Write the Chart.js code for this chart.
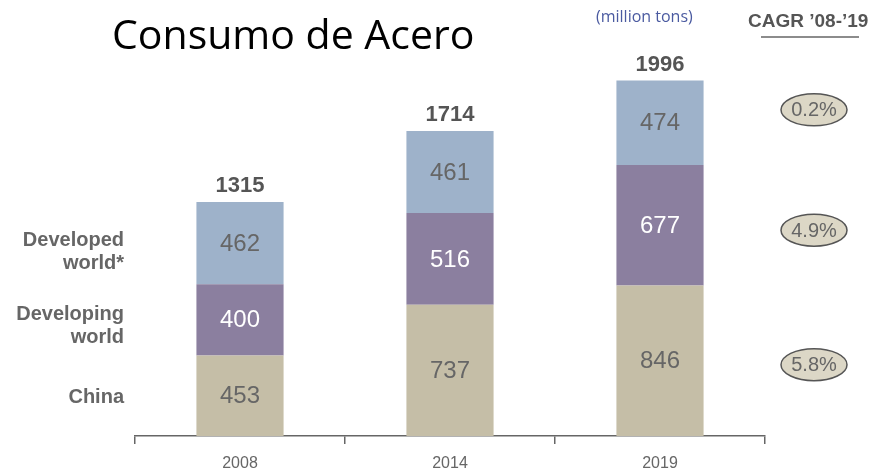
<!DOCTYPE html>
<html>
<head>
<meta charset="utf-8">
<script src="https://cdn.jsdelivr.net/npm/chart.js@4"></script>
<style>
  body { margin: 0; background: #fff; }
  #wrap { position: relative; width: 879px; height: 472px; }
</style>
</head>
<body>
<div id="wrap"><canvas id="graph" width="879" height="472"></canvas></div>
<script>
// data (million tons)
const years = ['2008', '2014', '2019'];
const china = [453, 737, 846];
const developing = [400, 516, 677];
const developed = [462, 461, 474];
const totals = [1315, 1714, 1996];
const seriesNames = [['China'], ['Developing', 'world'], ['Developed', 'world*']];
const cagr = ['5.8%', '4.9%', '0.2%'];

const labelPlugin = {
  id: 'labels',
  afterDatasetsDraw(chart) {
    const ctx = chart.ctx;
    ctx.save();
    ctx.textAlign = 'center';
    ctx.textBaseline = 'middle';
    // values inside the segments
    chart.data.datasets.forEach((ds, i) => {
      const meta = chart.getDatasetMeta(i);
      meta.data.forEach((bar, j) => {
        ctx.fillStyle = ds.textColor;
        ctx.font = '24px "Liberation Sans", Arial, sans-serif';
        ctx.fillText(ds.data[j], bar.x, (bar.y + bar.base) / 2 + 1);
      });
    });
    // totals above bars
    const top = chart.getDatasetMeta(2);
    top.data.forEach((bar, j) => {
      ctx.fillStyle = '#555';
      ctx.font = 'bold 22px "Liberation Sans", Arial, sans-serif';
      ctx.fillText(totals[j], bar.x, bar.y - 16);
    });
    // series names on the left, next to the 2008 bar
    ctx.textAlign = 'right';
    ctx.font = 'bold 20px "Liberation Sans", Arial, sans-serif';
    ctx.fillStyle = '#666';
    const nameOffs = [2, 6, 9];
    for (let i = 0; i < 3; i++) {
      const bar = chart.getDatasetMeta(i).data[0];
      const mid = (bar.y + bar.base) / 2 + nameOffs[i];
      const lines = seriesNames[i];
      lines.forEach((t, k) => {
        ctx.fillText(t, 124, mid + (k - (lines.length - 1) / 2) * 23);
      });
    }
    // CAGR ovals on the right, next to the 2019 bar
    const offs = [4, 5, -13];
    for (let i = 0; i < 3; i++) {
      const bar = chart.getDatasetMeta(i).data[2];
      const mid = (bar.y + bar.base) / 2 + offs[i];
      ctx.beginPath();
      ctx.ellipse(814, mid, 33, 16, 0, 0, Math.PI * 2);
      ctx.fillStyle = '#dcd7c6';
      ctx.fill();
      ctx.lineWidth = 1.5;
      ctx.strokeStyle = '#555';
      ctx.stroke();
      ctx.textAlign = 'center';
      ctx.fillStyle = '#666';
      ctx.font = '20px "Liberation Sans", Arial, sans-serif';
      ctx.fillText(cagr[i], 814, mid + 1);
    }
    // headings
    ctx.textAlign = 'left';
    ctx.fillStyle = '#000';
    ctx.font = '41px "Open Sans", sans-serif';
    ctx.fillText('Consumo de Acero', 112, 37);
    ctx.fillStyle = '#4a5aa0';
    ctx.font = '16px "Open Sans", sans-serif';
    ctx.fillText('(million tons)', 596, 17);
    ctx.fillStyle = '#555';
    ctx.font = 'bold 19px "Liberation Sans", Arial, sans-serif';
    ctx.fillText('CAGR \u201908-\u201919', 748, 22);
    ctx.beginPath();
    ctx.moveTo(761, 37);
    ctx.lineTo(859, 37);
    ctx.lineWidth = 1.5;
    ctx.strokeStyle = '#666';
    ctx.stroke();
    ctx.restore();
  }
};

let myChart = document.getElementById('graph').getContext('2d');

let steelChart = new Chart(myChart, {
  type: 'bar',
  data: {
    labels: years,
    datasets: [
      { label: 'China', data: china, backgroundColor: '#c5bea7', textColor: '#666' },
      { label: 'Developing world', data: developing, backgroundColor: '#8b7f9f', textColor: '#fff' },
      { label: 'Developed world*', data: developed, backgroundColor: '#9eb2ca', textColor: '#666' }
    ]
  },
  options: {
    responsive: false,
    animation: false,
    layout: { padding: { left: 135, right: 114, top: 0, bottom: 0 } },
    plugins: { legend: { display: false }, tooltip: { enabled: false } },
    datasets: { bar: { categoryPercentage: 1, barPercentage: 0.415 } },
    scales: {
      x: {
        stacked: true,
        afterFit(scale) { scale.height = 36; },
        border: { display: true, color: '#666', width: 1.5 },
        grid: { offset: true, drawOnChartArea: false, drawTicks: true, tickLength: 8, color: '#666', lineWidth: 1.5 },
        ticks: { color: '#666', padding: 10, font: { family: '"Liberation Sans", Arial', size: 16 } }
      },
      y: {
        stacked: true,
        display: false,
        min: 0,
        max: 2450
      }
    }
  },
  plugins: [labelPlugin]
});
</script>
</body>
</html>
